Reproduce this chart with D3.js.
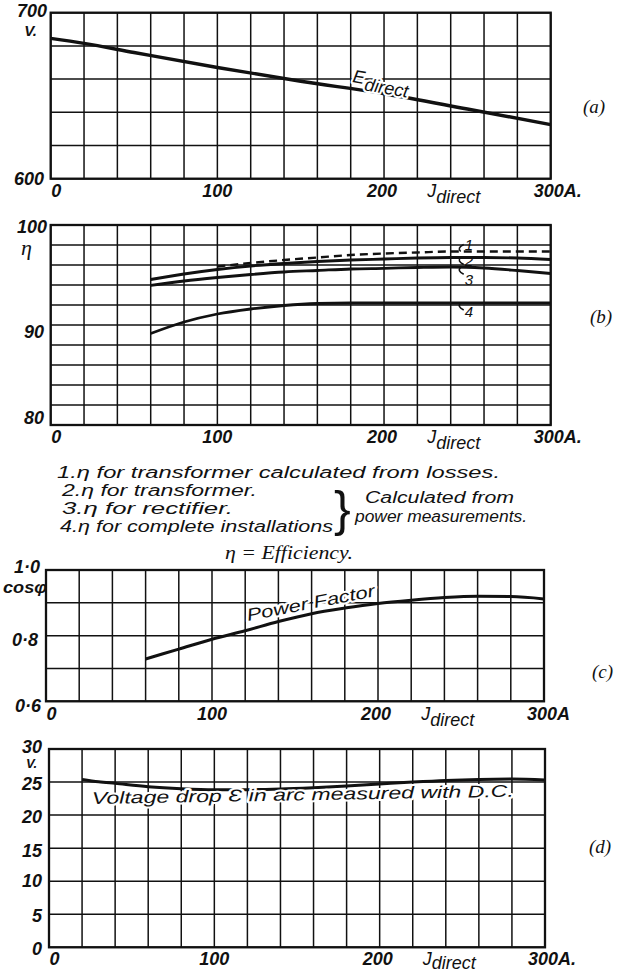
<!DOCTYPE html>
<html><head><meta charset="utf-8">
<script src="https://cdn.jsdelivr.net/npm/d3@7"></script>
<style>
html,body{margin:0;padding:0;background:#fff;}
svg{display:block;background:#fff;}
text{font-family:"Liberation Sans",Arial,sans-serif;font-style:italic;fill:#111;}
.num{font-weight:bold;font-size:18px;}
.serif{font-family:"Liberation Serif","DejaVu Serif",serif;}
.halo{paint-order:stroke;stroke:#fff;stroke-width:4px;stroke-linejoin:round;}
</style></head><body>
<svg id="chart" width="618" height="974"></svg>
<script>
// ---------------- data ----------------
const xTicks = [0, 100, 200, 300];
const xTickLabelsDot = ["0", "100", "200", "300A."];
const xTickLabelsNoDot = ["0", "100", "200", "300A"];

// (a) direct voltage
const eDirectCurrent = [0, 20, 50, 100, 150, 200, 250, 300];
const eDirectVolts = [684.5, 681.5, 676, 667, 658.7, 651.2, 642, 632.6];
const yTicksA = [700, 600];

// (b) efficiencies
const effCurrent = [60, 80, 100, 120, 140, 160, 180, 200, 220, 240, 260, 280, 300];
const eff1Current = [100, 120, 140, 160, 180, 200, 220, 240, 260, 280, 300];
const eff1 = [95.85, 96.2, 96.5, 96.75, 97.0, 97.15, 97.25, 97.35, 97.35, 97.35, 97.35];
const eff2 = [94.55, 95.1, 95.55, 95.9, 96.15, 96.35, 96.5, 96.6, 96.7, 96.75, 96.75, 96.7, 96.55];
const eff3 = [93.95, 94.4, 94.75, 95.05, 95.3, 95.45, 95.6, 95.67, 95.75, 95.8, 95.7, 95.45, 95.15];
const eff4 = [89.15, 90.3, 91.1, 91.6, 91.95, 92.15, 92.2, 92.2, 92.2, 92.2, 92.2, 92.2, 92.2];
const yTicksB = [100, 90, 80];
const curveNames = ["1", "2", "3", "4"];
const legendLines = [
  "1.\u03B7 for transformer calculated from losses.",
  "2.\u03B7 for transformer.",
  "3.\u03B7 for rectifier.",
  "4.\u03B7 for complete installations"
];

// (c) power factor
const pfCurrent = [60, 80, 100, 120, 140, 160, 180, 200, 220, 240, 260, 280, 300];
const powerFactor = [0.729, 0.759, 0.789, 0.815, 0.843, 0.867, 0.884, 0.898, 0.908, 0.916, 0.92, 0.919, 0.912];
const yTicksC = [1.0, 0.8, 0.6];
const yTickLabelsC = ["1\u00B70", "0\u00B78", "0\u00B76"];

// (d) arc voltage drop
const dropCurrent = [20, 30, 40, 60, 80, 100, 120, 140, 160, 180, 200, 220, 240, 260, 280, 300];
const arcDrop = [25.4, 25.05, 24.8, 24.3, 24.0, 23.85, 23.85, 23.95, 24.15, 24.4, 24.7, 25.0, 25.25, 25.4, 25.45, 25.3];
const yTicksD = [30, 25, 20, 15, 10, 5, 0];

// ---------------- drawing ----------------
const svg = d3.select("#chart");
const INK = "#111";

function makePanel(p) {
  const x = d3.scaleLinear().domain([0, 300]).range([p.left, p.right]);
  const y = d3.scaleLinear().domain(p.yDomain).range([p.bottom, p.top]);
  const g = svg.append("g");
  g.selectAll("line.v").data(x.ticks(15)).join("line").attr("class", "v")
    .attr("x1", d => x(d)).attr("x2", d => x(d)).attr("y1", p.top).attr("y2", p.bottom)
    .attr("stroke", INK).attr("stroke-width", 1.5);
  g.selectAll("line.h").data(y.ticks(p.yCount)).join("line").attr("class", "h")
    .attr("x1", p.left).attr("x2", p.right).attr("y1", d => y(d)).attr("y2", d => y(d))
    .attr("stroke", INK).attr("stroke-width", 1.5);
  g.append("rect").attr("x", p.left).attr("y", p.top)
    .attr("width", p.right - p.left).attr("height", p.bottom - p.top)
    .attr("fill", "none").attr("stroke", INK).attr("stroke-width", 2.3);

  // x labels
  const base = p.bottom + p.xDy;
  xTicks.forEach((v, i) => {
    const t = g.append("text").attr("class", "num").attr("y", base).text(p.xLabels[i]);
    if (i === 0) t.attr("x", x(v) + 0.5).attr("text-anchor", "start");
    else if (i === xTicks.length - 1) t.attr("x", x(v) - 17).attr("text-anchor", "start");
    else t.attr("x", x(v) - (i === 2 ? 2 : 0)).attr("text-anchor", "middle");
  });
  const jl = g.append("text").attr("x", x(226)).attr("y", base).style("font-size", "18px");
  jl.append("tspan").text("J");
  jl.append("tspan").attr("dy", p.subDy).text("direct");

  // y labels
  p.yTicks.forEach((v, i) => {
    g.append("text").attr("class", "num").attr("text-anchor", "end")
      .attr("x", p.yEnd[i]).attr("y", y(v) + p.yDy[i])
      .text(p.yLabels ? p.yLabels[i] : String(v));
  });
  // panel letter
  g.append("text").attr("class", "serif").style("font-size", "19px")
    .attr("x", p.letterX).attr("y", p.letterY).text(p.letter);
  return { x, y, g };
}

// ---- (a)
const A = makePanel({
  left: 50.7, right: 550.7, top: 12.7, bottom: 178.7, yDomain: [600, 700], yCount: 5,
  xLabels: xTickLabelsDot, xDy: 18, subDy: 6, yTicks: yTicksA, yDy: [4.5, 6.5], yEnd: [47, 44],
  letter: "(a)", letterX: 583, letterY: 113
});
A.g.append("text").attr("class", "num").style("font-size", "15px")
  .attr("x", 37).attr("y", 36).attr("text-anchor", "end").text("V.");
A.g.append("path")
  .attr("d", d3.line().x((d, i) => A.x(eDirectCurrent[i])).y(d => A.y(d)).curve(d3.curveMonotoneX)(eDirectVolts))
  .attr("fill", "none").attr("stroke", INK).attr("stroke-width", 3.4);
const ed = A.g.append("text").attr("class", "halo").style("font-size", "18px")
  .attr("transform", "translate(352,82) rotate(9.8)");
ed.append("tspan").text("E");
ed.append("tspan").attr("dy", 6).attr("dx", 1).text("direct");

// ---- (b)
const B = makePanel({
  left: 50.7, right: 550.7, top: 225, bottom: 425, yDomain: [80, 100], yCount: 10,
  xLabels: xTickLabelsDot, xDy: 18, subDy: 6, yTicks: yTicksB, yDy: [8, 13, -1], yEnd: [47, 44, 44],
  letter: "(b)", letterX: 590, letterY: 323
});
B.g.append("text").attr("class", "serif").style("font-size", "22px").attr("x", 21).attr("y", 255).text("\u03B7");
const lineB = cur => d3.line().x((d, i) => B.x(cur[i])).y(d => B.y(d)).curve(d3.curveMonotoneX);
[eff2, eff3, eff4].forEach(s => {
  B.g.append("path").attr("d", lineB(effCurrent)(s))
    .attr("fill", "none").attr("stroke", INK).attr("stroke-width", 2.8);
});
B.g.append("path").attr("d", lineB(eff1Current)(eff1))
  .attr("fill", "none").attr("stroke", INK).attr("stroke-width", 2.4).attr("stroke-dasharray", "8,5");

// curve labels with hooks
const hookA = 246;
const labelSeries = [[eff1Current, eff1], [effCurrent, eff2], [effCurrent, eff3], [effCurrent, eff4]];
const hookDir = [-1, 1, 1, 1];
const labelDy = [-2, 8.5, 17.5, 14];
labelSeries.forEach(([cur, s], k) => {
  const yv = d3.scaleLinear().domain(cur).range(s)(hookA);
  const px = B.x(hookA), py = B.y(yv);
  const y1 = py + hookDir[k] * 7;
  B.g.append("path")
    .attr("d", `M${px},${py} Q${px - 4},${(py + y1) / 2} ${px + 3},${y1}`)
    .attr("fill", "none").attr("stroke", INK).attr("stroke-width", 1.6);
  B.g.append("text").style("font-size", "15px").attr("x", px + 4).attr("y", py + labelDy[k]).text(curveNames[k]);
});

// legend
const legX = [57, 62, 62, 60];
const legW = [443, 195, 171, 273];
legendLines.forEach((t, i) => {
  svg.append("text").style("font-size", "16px").attr("x", legX[i]).attr("y", 478 + i * 18)
    .attr("textLength", legW[i]).attr("lengthAdjust", "spacingAndGlyphs").text(t);
});
svg.append("text").style("font-size", "50px").style("font-style", "normal")
  .attr("x", 334).attr("y", 526).text("}");
svg.append("text").style("font-size", "16px").attr("x", 365).attr("y", 503)
  .attr("textLength", 149).attr("lengthAdjust", "spacingAndGlyphs").text("Calculated from");
svg.append("text").style("font-size", "16px").attr("x", 355).attr("y", 522)
  .attr("textLength", 172).attr("lengthAdjust", "spacingAndGlyphs").text("power measurements.");
svg.append("text").attr("class", "serif").style("font-size", "18px").attr("x", 225).attr("y", 559)
  .attr("textLength", 128).attr("lengthAdjust", "spacingAndGlyphs").text("\u03B7 = Efficiency.");

// ---- (c)
const C = makePanel({
  left: 46, right: 544, top: 570, bottom: 701.3, yDomain: [0.6, 1.0], yCount: 4,
  xLabels: xTickLabelsNoDot, xDy: 19, subDy: 6, yTicks: yTicksC, yLabels: yTickLabelsC, yDy: [3, 10, 11], yEnd: [40, 38, 41],
  letter: "(c)", letterX: 592, letterY: 678
});
C.g.append("text").style("font-size", "16px").style("font-weight", "bold").attr("x", 3).attr("y", 593)
  .attr("textLength", 44).attr("lengthAdjust", "spacingAndGlyphs").text("cos\u03C6");
C.g.append("path")
  .attr("d", d3.line().x((d, i) => C.x(pfCurrent[i])).y(d => C.y(d)).curve(d3.curveMonotoneX)(powerFactor))
  .attr("fill", "none").attr("stroke", INK).attr("stroke-width", 3);
C.g.append("text").attr("class", "halo").style("font-size", "17px")
  .attr("transform", "translate(248,621) rotate(-11)")
  .attr("textLength", 130).attr("lengthAdjust", "spacingAndGlyphs").text("Power Factor");

// ---- (d)
const D = makePanel({
  left: 49, right: 545, top: 749, bottom: 947.3, yDomain: [0, 30], yCount: 6,
  xLabels: xTickLabelsDot, xDy: 18, subDy: 4, yTicks: yTicksD, yDy: [4, 8, 8, 9, 6, 8, 8], yEnd: [42, 42, 42, 42, 42, 42, 42],
  letter: "(d)", letterX: 589, letterY: 853
});
D.g.append("text").attr("class", "num").style("font-size", "13px")
  .attr("x", 37).attr("y", 768).attr("text-anchor", "end").text("V.");
D.g.append("path")
  .attr("d", d3.line().x((d, i) => D.x(dropCurrent[i])).y(d => D.y(d)).curve(d3.curveMonotoneX)(arcDrop))
  .attr("fill", "none").attr("stroke", INK).attr("stroke-width", 3);
D.g.append("text").attr("class", "halo").style("font-size", "17px")
  .attr("transform", "translate(92,804) rotate(-1)")
  .attr("textLength", 422).attr("lengthAdjust", "spacingAndGlyphs")
  .text("Voltage drop \u0190 in arc measured with D.C.");
</script>
</body></html>
